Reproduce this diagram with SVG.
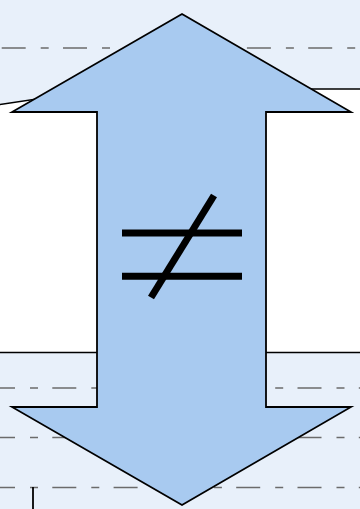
<svg xmlns="http://www.w3.org/2000/svg" width="360" height="509" viewBox="0 0 360 509">
  <style>
    .panel { fill: #ffffff; stroke: #000000; stroke-width: 1.5; }
    .dash { stroke: #6b6b6b; stroke-width: 1.5; fill: none; stroke-dasharray: 24 15 8 14.3; }
    .arrow { fill: #a8caf0; stroke: #000000; stroke-width: 1.8; stroke-linejoin: miter; }
    .neq { stroke: #000000; stroke-width: 7; fill: none; stroke-linecap: butt; }
  </style>
  <rect id="background" x="0" y="0" width="360" height="509" fill="#e8f0fa"/>
  <g id="dash-lines">
    <line class="dash" x1="1.7" y1="48" x2="360" y2="48"/>
    <line class="dash" x1="-9" y1="388" x2="360" y2="388"/>
    <line class="dash" x1="-9" y1="437.5" x2="360" y2="437.5"/>
    <line class="dash" x1="-9" y1="487.5" x2="360" y2="487.5"/>
  </g>
  <g id="left-panel">
    <path class="panel" d="M -2 104.8 L 130 85 L 130 352.5 L -2 352.5"/>
  </g>
  <g id="right-panel">
    <path class="panel" d="M 362 89 L 240 89 L 240 352.5 L 362 352.5"/>
  </g>
  <line id="tick" x1="33" y1="487" x2="33" y2="510" stroke="#000" stroke-width="1.8"/>
  <g id="double-arrow">
    <polygon class="arrow" points="182,14 351,112 266,112 266,407 351,407 182,505 12,407 97,407 97,112 12,112"/>
  </g>
  <g id="not-equal">
    <line class="neq" x1="122" y1="233" x2="242" y2="233"/>
    <line class="neq" x1="122" y1="276.3" x2="242" y2="276.3"/>
    <line class="neq" x1="214" y1="195.5" x2="151" y2="297.5"/>
  </g>
</svg>
